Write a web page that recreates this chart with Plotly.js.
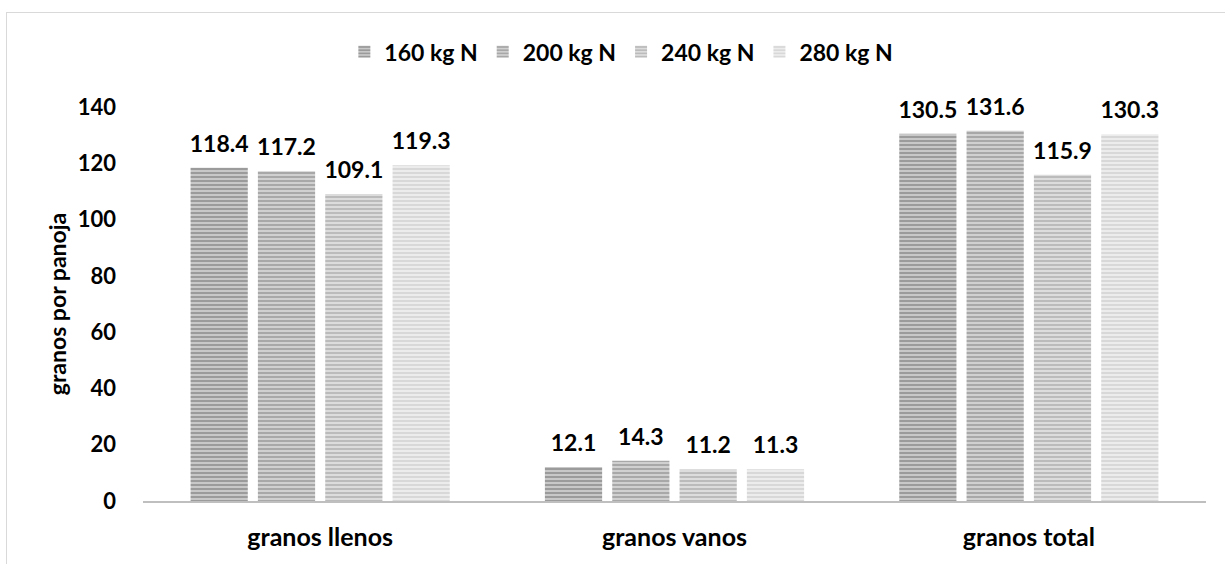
<!DOCTYPE html>
<html>
<head>
<meta charset="utf-8">
<script src="https://cdn.plot.ly/plotly-3.0.1.min.js"></script>
<style>
html,body{margin:0;padding:0;background:#fff;}
#wrap{position:relative;width:1225px;height:564px;}
#frame{position:absolute;left:6px;top:12px;width:1230px;height:560px;border-top:1.5px solid #d9d9d9;border-left:1.5px solid #d9d9d9;pointer-events:none;z-index:5;}
#chart{width:1225px;height:564px;}
</style>
</head>
<body>
<div id="wrap"><div id="chart"></div><div id="frame"></div></div>
<script>
const categories = ["granos llenos", "granos vanos", "granos total"];
const seriesNames = ["160 kg N", "200 kg N", "240 kg N", "280 kg N"];
const v160 = [118.4, 12.1, 130.5];
const v200 = [117.2, 14.3, 131.6];
const v240 = [109.1, 11.2, 115.9];
const v280 = [119.3, 11.3, 130.3];
const yTicks = [0, 20, 40, 60, 80, 100, 120, 140];

const allValues = [v160, v200, v240, v280];
const fg = ["#6e6e6e", "#808080", "#9a9a9a", "#c4c4c4"];
const bg = ["#c8c8c8", "#d0d0d0", "#dcdcdc", "#ececec"];
const FONT = "Lato, 'Open Sans', sans-serif";
const GAP = 0.24;

const bars = allValues.map((vals, i) => ({
  type: "bar",
  name: seriesNames[i],
  x: categories,
  y: vals,
  offsetgroup: "g" + i,
  marker: {
    color: bg[i],
    line: {width: 0},
    pattern: {shape: "-", fgcolor: fg[i], bgcolor: bg[i], size: 4, solidity: 0.5, fillmode: "overlay"}
  },
  hoverinfo: "skip"
}));

const labels = allValues.map((vals, i) => ({
  type: "scatter",
  mode: "markers+text",
  showlegend: false,
  x: categories,
  y: vals,
  offsetgroup: "g" + i,
  text: vals.map(v => "<b>" + v.toFixed(1) + "</b>"),
  textposition: "top center",
  cliponaxis: false,
  marker: {size: 15, color: "rgba(0,0,0,0)"},
  textfont: {family: FONT, size: 23, color: "#000", weight: "bold"},
  hoverinfo: "skip"
}));

const layout = {
  width: 1225, height: 564,
  margin: {l: 143, r: 19, t: 107, b: 63},
  paper_bgcolor: "#fff", plot_bgcolor: "#fff",
  barmode: "group",
  scattermode: "group",
  bargap: GAP,
  scattergap: GAP,
  bargroupgap: 0.15,
  font: {family: FONT, color: "#000"},
  showlegend: true,
  legend: {
    orientation: "h", x: 0.45, xanchor: "center", y: 1.14, yanchor: "middle",
    font: {family: FONT, size: 23, color: "#000", weight: "bold"},
    traceorder: "normal"
  },
  xaxis: {
    type: "category",
    showline: true, linecolor: "#bfbfbf", linewidth: 2,
    ticks: "", showgrid: false, zeroline: false,
    tickfont: {family: FONT, size: 25, color: "#000", weight: "bold"},
    ticklabelstandoff: 13
  },
  yaxis: {
    range: [0, 140],
    tickvals: yTicks, ticktext: yTicks.map(String),
    showgrid: false, zeroline: false, showline: false, ticks: "",
    tickfont: {family: FONT, size: 22, color: "#000", weight: "bold"},
    ticklabelstandoff: 26,
    title: {text: "granos por panoja", font: {family: FONT, size: 23, color: "#000", weight: "bold"}, standoff: 4}
  }
};

Plotly.newPlot("chart", bars.concat(labels), layout, {staticPlot: true, displayModeBar: false});
</script>
</body>
</html>
